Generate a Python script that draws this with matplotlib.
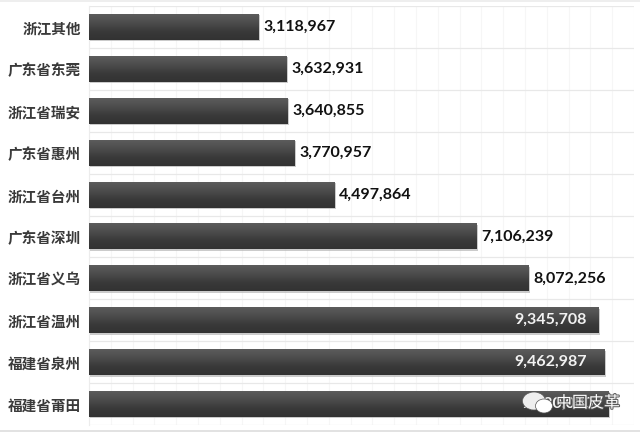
import numpy as np
import matplotlib
matplotlib.use("Agg")
import matplotlib.pyplot as plt
import matplotlib.patheffects as pe
from matplotlib.patches import Ellipse, Rectangle

CATEGORIES = ["浙江其他", "广东省东莞", "浙江省瑞安", "广东省惠州", "浙江省台州",
              "广东省深圳", "浙江省义乌", "浙江省温州", "福建省泉州", "福建省莆田"]
VALUES = [3118967, 3632931, 3640855, 3770957, 4497864,
          7106239, 8072256, 9345708, 9462987, 9530000]
VALUE_LABELS = ["3,118,967", "3,632,931", "3,640,855", "3,770,957", "4,497,864",
                "7,106,239", "8,072,256", "9,345,708", "9,462,987", "9,530,000"]
WATERMARK = "中国皮革"

plt.rcParams["font.family"] = ["Noto Sans CJK SC", "DejaVu Sans"]

fig = plt.figure(figsize=(6.4, 4.32), dpi=100, facecolor="white")
ax = fig.add_axes([89 / 640, 1 - 425 / 432, 545 / 640, 419 / 432])

# faint chart grid behind the bars
ax.set_xticks(np.arange(0, 10000001, 400000))
ax.set_yticks(np.arange(-0.5, len(VALUES), 1), minor=True)
ax.set_yticks(range(len(VALUES)))
ax.set_yticklabels(CATEGORIES, fontsize=10.5, fontweight="bold", color="#3a3a3a")
ax.set_xticklabels([])
ax.tick_params(axis="both", which="both", length=0)
ax.tick_params(axis="y", pad=6)
ax.grid(axis="x", color="#f6f6f6", lw=0.8)
ax.grid(axis="y", which="minor", color="#e8e8e8", lw=0.9)
ax.set_axisbelow(True)
for side in ["top", "right", "bottom"]:
    ax.spines[side].set_visible(False)
ax.spines["left"].set_color("#ececec")

gradient = np.linspace(0, 1, 64).reshape(-1, 1)
cmap = matplotlib.colors.LinearSegmentedColormap.from_list(
    "bar", ["#5c5c5c", "#4c4c4c", "#3a3a3a", "#323232"])

bars = ax.barh(range(len(VALUES)), VALUES, height=0.62, color="#3c3c3c",
               edgecolor="none", zorder=2,
               path_effects=[pe.SimplePatchShadow(offset=(1, -1), shadow_rgbFace="#b5b5b5", alpha=0.7),
                             pe.Normal()])

for i, bar in enumerate(bars):
    im = ax.imshow(gradient, cmap=cmap, aspect="auto", zorder=3, vmin=0, vmax=1,
                   extent=(0, VALUES[i], i + 0.31, i - 0.31))
    im.set_clip_path(bar)
    if VALUES[i] > 9000000:
        # inside labels are not at a constant distance from the bar end
        gap = {7: 12, 8: 18, 9: 15}[i]
        ax.annotate(VALUE_LABELS[i], (VALUES[i], i), xytext=(-gap * 0.72, 0),
                    textcoords="offset points", ha="right", va="center", zorder=5,
                    family="Lato", fontsize=11.5, fontweight="bold", color="#f2f2f2")
    else:
        ax.text(VALUES[i] + 90000, i, VALUE_LABELS[i], ha="left", va="center", zorder=5,
                family="Lato", fontsize=11.5, fontweight="bold", color="#111111")

ax.set_xlim(0, 10000000)
ax.set_ylim(len(VALUES) - 0.5, -0.5)

# overlay in pixel coordinates for the image border and the watermark
top_ax = fig.add_axes([0, 0, 1, 1], facecolor="none", zorder=5)
top_ax.set_xlim(0, 640)
top_ax.set_ylim(432, 0)
top_ax.axis("off")
top_ax.add_patch(Rectangle((0, 429.5), 640, 2.5, fc="#e2e2e2", ec="none"))
top_ax.add_patch(Rectangle((0, 0), 640, 1.5, fc="#eeeeee", ec="none"))
top_ax.add_patch(Ellipse((534, 401), 23, 18, fc="#eeeeee", ec="#555555", lw=0.5))
top_ax.add_patch(Ellipse((544, 406), 17, 14, fc="white", ec="#555555", lw=0.5))
top_ax.text(620, 403, WATERMARK, ha="right", va="center", fontsize=11.5, color="white",
            path_effects=[pe.withStroke(linewidth=1.4, foreground="#555555")])

fig.savefig("out.png", dpi=100, facecolor="white")
